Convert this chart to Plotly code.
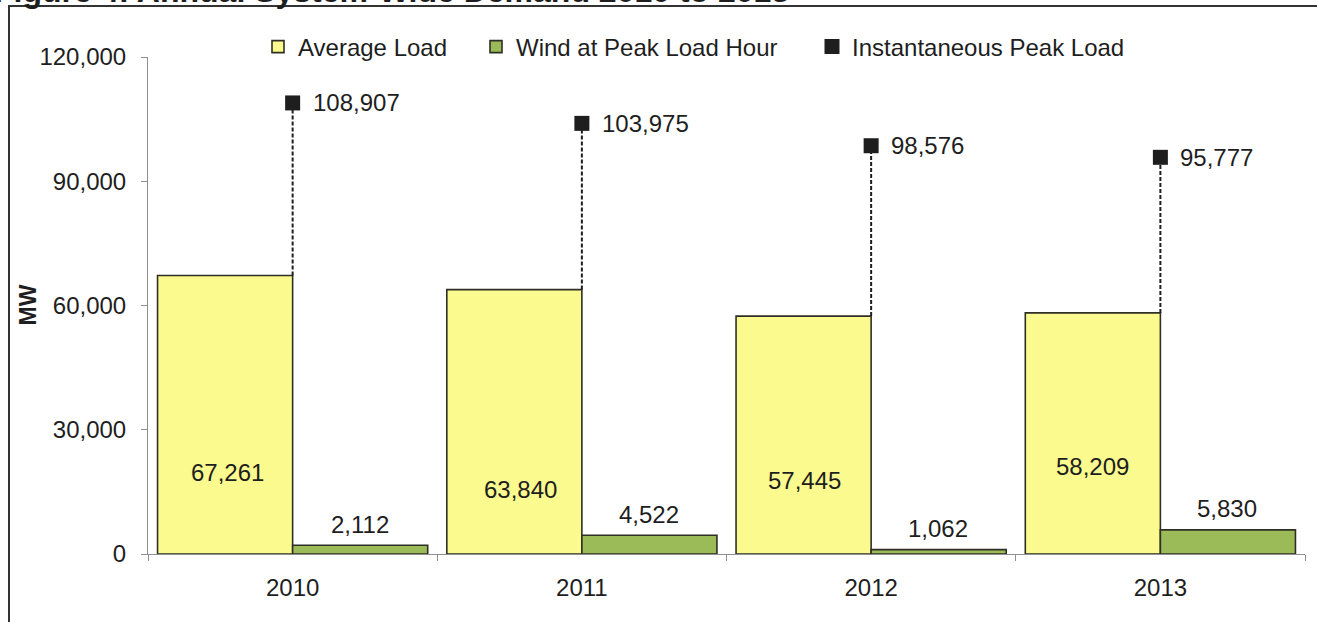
import plotly.graph_objects as go

# ---- data ----
years = ["2010", "2011", "2012", "2013"]
average_load = [67261, 63840, 57445, 58209]
wind_at_peak = [2112, 4522, 1062, 5830]
peak_load = [108907, 103975, 98576, 95777]

# ---- canvas / plot-area geometry (pixels) ----
W, H = 1317, 622
M_L, M_R, M_T, M_B = 148, 12, 57, 68
PW, PH = W - M_L - M_R, H - M_T - M_B


def px_x(x):
    return (x - M_L) / PW


def px_y(y):
    return (H - M_B - y) / PH


FONT = "Liberation Sans, Arial, sans-serif"
YELLOW = "#FAFA8E"
GREEN = "#9BBB59"
OUTLINE = "#2f2f25"
INK = "#1e1e1e"
AXIS = "#8f8f8f"

# vertical placement of the values written inside the yellow bars (data units)
# and small horizontal nudges (px)
avg_label_level = [19700, 15500, 17800, 21200]
avg_label_nudge = [2, 6, 0, -1]

fig = go.Figure()

fig.add_trace(go.Bar(
    x=years, y=average_load, name="Average Load", legend="legend",
    marker=dict(color=YELLOW, line=dict(color=OUTLINE, width=1.6)),
))
fig.add_trace(go.Bar(
    x=years, y=wind_at_peak, name="Wind at Peak Load Hour", legend="legend2",
    marker=dict(color=GREEN, line=dict(color=OUTLINE, width=1.6)),
))

# dotted drop lines from the instantaneous peak down to the average-load bar
drop_x, drop_y = [], []
for yr, lo, hi in zip(years, average_load, peak_load):
    drop_x += [yr, yr, None]
    drop_y += [lo, hi, None]
fig.add_trace(go.Scatter(
    x=drop_x, y=drop_y, mode="lines", showlegend=False, hoverinfo="skip",
    line=dict(color=INK, width=2, dash="4px,2px"),
))

fig.add_trace(go.Scatter(
    x=years, y=peak_load, name="Instantaneous Peak Load", legend="legend3",
    mode="markers",
    marker=dict(symbol="square", size=15, color=INK),
))

label_font = dict(family=FONT, size=24, color=INK)
annotations = []
for i, v in enumerate(average_load):
    annotations.append(dict(
        x=i, y=avg_label_level[i], xref="x", yref="y",
        text=f"{v:,}", showarrow=False, xshift=-67 + avg_label_nudge[i],
        font=label_font,
    ))
for i, v in enumerate(wind_at_peak):
    annotations.append(dict(
        x=i, y=v, xref="x", yref="y", yanchor="middle",
        text=f"{v:,}", showarrow=False, xshift=67, yshift=21,
        font=label_font,
    ))
for i, v in enumerate(peak_load):
    annotations.append(dict(
        x=i, y=v, xref="x", yref="y", xanchor="left", yanchor="middle",
        text=f"{v:,}", showarrow=False, xshift=18,
        font=label_font,
    ))

# y-axis title
annotations.append(dict(
    x=px_x(27), y=0.5, xref="paper", yref="paper", showarrow=False,
    xanchor="center", yanchor="middle",
    text="<b>MW</b>", textangle=-90,
    font=dict(family=FONT, size=23, color=INK),
))

# heading running off the top edge of the page
annotations.append(dict(
    x=px_x(-8), y=px_y(11), xref="paper", yref="paper",
    xanchor="left", yanchor="bottom", showarrow=False,
    text="<b>Figure 4: Annual System-Wide Demand 2010 to 2013</b>",
    font=dict(family=FONT, size=32, color=INK),
))

legend_style = dict(
    orientation="h", yanchor="middle", xanchor="left", y=px_y(47),
    font=dict(family=FONT, size=24, color=INK),
    itemwidth=30, bgcolor="rgba(0,0,0,0)", borderwidth=0,
)

fig.update_layout(
    width=W, height=H,
    margin=dict(l=M_L, r=M_R, t=M_T, b=M_B),
    paper_bgcolor="white", plot_bgcolor="white",
    barmode="group", bargap=0.066, bargroupgap=0,
    font=dict(family=FONT, size=24, color=INK),
    showlegend=True,
    legend=dict(legend_style, x=px_x(258)),
    legend2=dict(legend_style, x=px_x(476)),
    legend3=dict(legend_style, x=px_x(812)),
    annotations=annotations,
    shapes=[dict(
        type="rect", xref="paper", yref="paper",
        x0=px_x(9), y0=px_y(H + 20), x1=px_x(W + 20), y1=px_y(6),
        line=dict(color="#333333", width=2), fillcolor="rgba(0,0,0,0)", layer="below",
    )],
)

fig.update_xaxes(
    type="category", range=[-0.5, 3.5], showgrid=False,
    showline=True, linecolor=AXIS, linewidth=1,
    ticks="outside", tickson="boundaries", ticklen=6, tickcolor=AXIS,
    ticklabelstandoff=12,
    tickfont=dict(family=FONT, size=24, color=INK),
)
fig.update_yaxes(
    range=[0, 120000], dtick=30000, tickformat=",", showgrid=False,
    showline=True, linecolor=AXIS, linewidth=1, zeroline=False,
    ticks="outside", ticklen=6, tickcolor=AXIS,
    ticklabelstandoff=10,
    tickfont=dict(family=FONT, size=24, color=INK),
)

fig.write_html("out.html")
